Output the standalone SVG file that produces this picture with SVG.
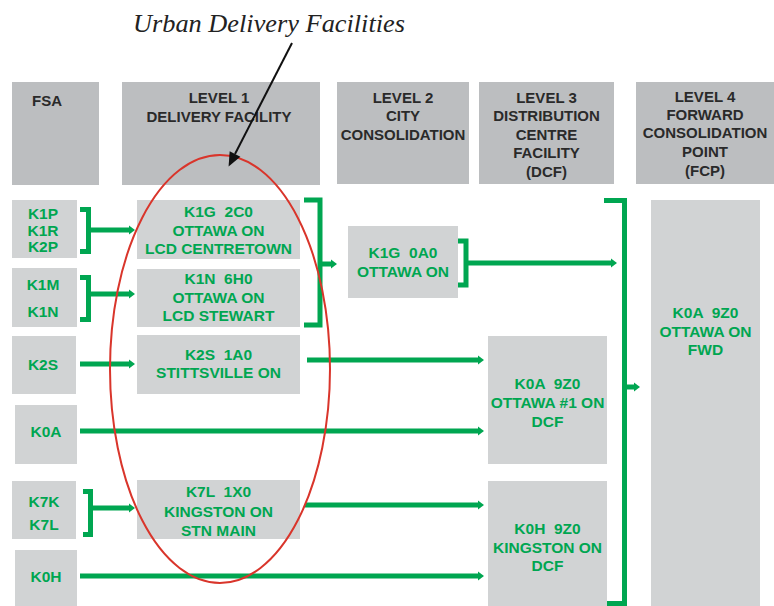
<svg xmlns="http://www.w3.org/2000/svg" width="774" height="606" viewBox="0 0 774 606">
<style>
.hd{fill:#bcbec0}
.bx{fill:#d1d3d4}
.ht{font-family:"Liberation Sans",Arial,sans-serif;font-weight:bold;font-size:15px;fill:#2a2a2a;text-anchor:middle}
.gt{font-family:"Liberation Sans",Arial,sans-serif;font-weight:bold;font-size:15.5px;fill:#00a651;text-anchor:middle}
.ln{fill:none;stroke:#00a651;stroke-width:5;stroke-linejoin:miter}
.ar{fill:none;stroke:#00a651;stroke-width:5;marker-end:url(#ah)}
</style>
<defs>
<marker id="ah" markerUnits="userSpaceOnUse" markerWidth="6" markerHeight="10" refX="0" refY="5" orient="auto" overflow="visible">
<path d="M0,0.5 L6,5 L0,9.5 z" fill="#00a651"/>
</marker>
<marker id="bk" markerUnits="userSpaceOnUse" markerWidth="14" markerHeight="12" refX="0" refY="6" orient="auto" overflow="visible">
<path d="M0,0 L14,6 L0,12 z" fill="#111"/>
</marker>
</defs>
<rect width="774" height="606" fill="#fff"/>

<text x="269" y="32" font-family="'Liberation Serif','Times New Roman',serif" font-style="italic" font-size="25" fill="#222" text-anchor="middle" textLength="272" lengthAdjust="spacingAndGlyphs">Urban Delivery Facilities</text>

<g id="h-fsa"><rect class="hd" x="12" y="82" width="87" height="103"/><text class="ht" x="47" y="106">FSA</text></g>
<g id="h-l1"><rect class="hd" x="122" y="82" width="198" height="103"/><text class="ht" x="219" y="103">LEVEL 1</text><text class="ht" x="219" y="122">DELIVERY FACILITY</text></g>
<g id="h-l2"><rect class="hd" x="337" y="82" width="132" height="102"/><text class="ht" x="403" y="103">LEVEL 2</text><text class="ht" x="403" y="121">CITY</text><text class="ht" x="403" y="139.5">CONSOLIDATION</text></g>
<g id="h-l3"><rect class="hd" x="479" y="82" width="135" height="102"/><text class="ht" x="546.5" y="102.5">LEVEL 3</text><text class="ht" x="546.5" y="121">DISTRIBUTION</text><text class="ht" x="546.5" y="139.5">CENTRE</text><text class="ht" x="546.5" y="158">FACILITY</text><text class="ht" x="546.5" y="176.5">(DCF)</text></g>
<g id="h-l4"><rect class="hd" x="636" y="82" width="138" height="102"/><text class="ht" x="705" y="101.5">LEVEL 4</text><text class="ht" x="705" y="119.5">FORWARD</text><text class="ht" x="705" y="138">CONSOLIDATION</text><text class="ht" x="705" y="157">POINT</text><text class="ht" x="705" y="175.5">(FCP)</text></g>

<g id="f-k1p"><rect class="bx" x="12" y="200" width="65" height="58"/><text class="gt" x="43" y="219">K1P</text><text class="gt" x="43" y="236">K1R</text><text class="gt" x="43" y="252">K2P</text></g>
<g id="f-k1m"><rect class="bx" x="12" y="268" width="65" height="59"/><text class="gt" x="43" y="290">K1M</text><text class="gt" x="43" y="317">K1N</text></g>
<g id="f-k2s"><rect class="bx" x="12" y="336" width="64" height="58"/><text class="gt" x="43" y="370">K2S</text></g>
<g id="f-k0a"><rect class="bx" x="15" y="405" width="62" height="59"/><text class="gt" x="46" y="437">K0A</text></g>
<g id="f-k7k"><rect class="bx" x="12" y="481" width="64" height="58"/><text class="gt" x="44" y="507">K7K</text><text class="gt" x="44" y="530">K7L</text></g>
<g id="f-k0h"><rect class="bx" x="15" y="550" width="62" height="56"/><text class="gt" x="46" y="582">K0H</text></g>

<g id="d-k1g2c0"><rect class="bx" x="137" y="200" width="163" height="59"/><text class="gt" x="218.5" y="217" xml:space="preserve">K1G  2C0</text><text class="gt" x="218.5" y="236">OTTAWA ON</text><text class="gt" x="218.5" y="254">LCD CENTRETOWN</text></g>
<g id="d-k1n6h0"><rect class="bx" x="137" y="269" width="163" height="58"/><text class="gt" x="218.5" y="284" xml:space="preserve">K1N  6H0</text><text class="gt" x="218.5" y="303">OTTAWA ON</text><text class="gt" x="218.5" y="321">LCD STEWART</text></g>
<g id="d-k2s1a0"><rect class="bx" x="137" y="335" width="163" height="59"/><text class="gt" x="218.5" y="360" xml:space="preserve">K2S  1A0</text><text class="gt" x="218.5" y="378">STITTSVILLE ON</text></g>
<g id="d-k7l1x0"><rect class="bx" x="137" y="480" width="163" height="59"/><text class="gt" x="218.5" y="497" xml:space="preserve">K7L  1X0</text><text class="gt" x="218.5" y="517">KINGSTON ON</text><text class="gt" x="218.5" y="536">STN MAIN</text></g>

<g id="c-k1g0a0"><rect class="bx" x="348" y="226" width="110" height="72"/><text class="gt" x="403" y="258" xml:space="preserve">K1G  0A0</text><text class="gt" x="403" y="277">OTTAWA ON</text></g>

<g id="dcf-k0a"><rect class="bx" x="488" y="336" width="119" height="128"/><text class="gt" x="547.5" y="389" xml:space="preserve">K0A  9Z0</text><text class="gt" x="547.5" y="408">OTTAWA #1 ON</text><text class="gt" x="547.5" y="427">DCF</text></g>
<g id="dcf-k0h"><rect class="bx" x="488" y="481" width="119" height="125"/><text class="gt" x="547.5" y="534" xml:space="preserve">K0H  9Z0</text><text class="gt" x="547.5" y="553">KINGSTON ON</text><text class="gt" x="547.5" y="571">DCF</text></g>

<g id="fcp"><rect class="bx" x="651" y="200" width="109" height="406"/><text class="gt" x="705.5" y="318" xml:space="preserve">K0A  9Z0</text><text class="gt" x="705.5" y="337">OTTAWA ON</text><text class="gt" x="705.5" y="355">FWD</text></g>

<g id="connectors">
<path class="ln" d="M80,209.5 H88.5 V251.5 H80"/>
<line class="ar" x1="88" y1="230" x2="129" y2="230"/>
<path class="ln" d="M80,277.5 H88.5 V319.5 H80"/>
<line class="ar" x1="88" y1="294" x2="129" y2="294"/>
<line class="ar" x1="80" y1="364" x2="129" y2="364"/>
<path class="ln" d="M83,491.5 H90.5 V534.5 H83"/>
<line class="ar" x1="90" y1="508" x2="129" y2="508"/>
<line class="ar" x1="80" y1="431" x2="478" y2="431"/>
<line class="ar" x1="80" y1="576" x2="478" y2="576"/>
<line class="ar" x1="307" y1="360" x2="478" y2="360"/>
<line class="ar" x1="305" y1="505" x2="478" y2="505"/>
<path class="ln" d="M304,200 H320 V325 H304" stroke-width="6"/>
<line class="ar" x1="320" y1="264" x2="331" y2="264"/>
<path class="ln" d="M458,241 H466 V285 H458"/>
<line class="ar" x1="466" y1="263" x2="611" y2="263"/>
<path class="ln" d="M604,200.5 H624.5 V603.5 H607"/>
<line class="ar" x1="624" y1="387" x2="634" y2="387"/>
</g>

<g id="callout">
<ellipse cx="220" cy="369" rx="110" ry="214" fill="none" stroke="#d9352b" stroke-width="2"/>
<line x1="292" y1="43" x2="235" y2="154" stroke="#111" stroke-width="2" marker-end="url(#bk)"/>
</g>
</svg>
